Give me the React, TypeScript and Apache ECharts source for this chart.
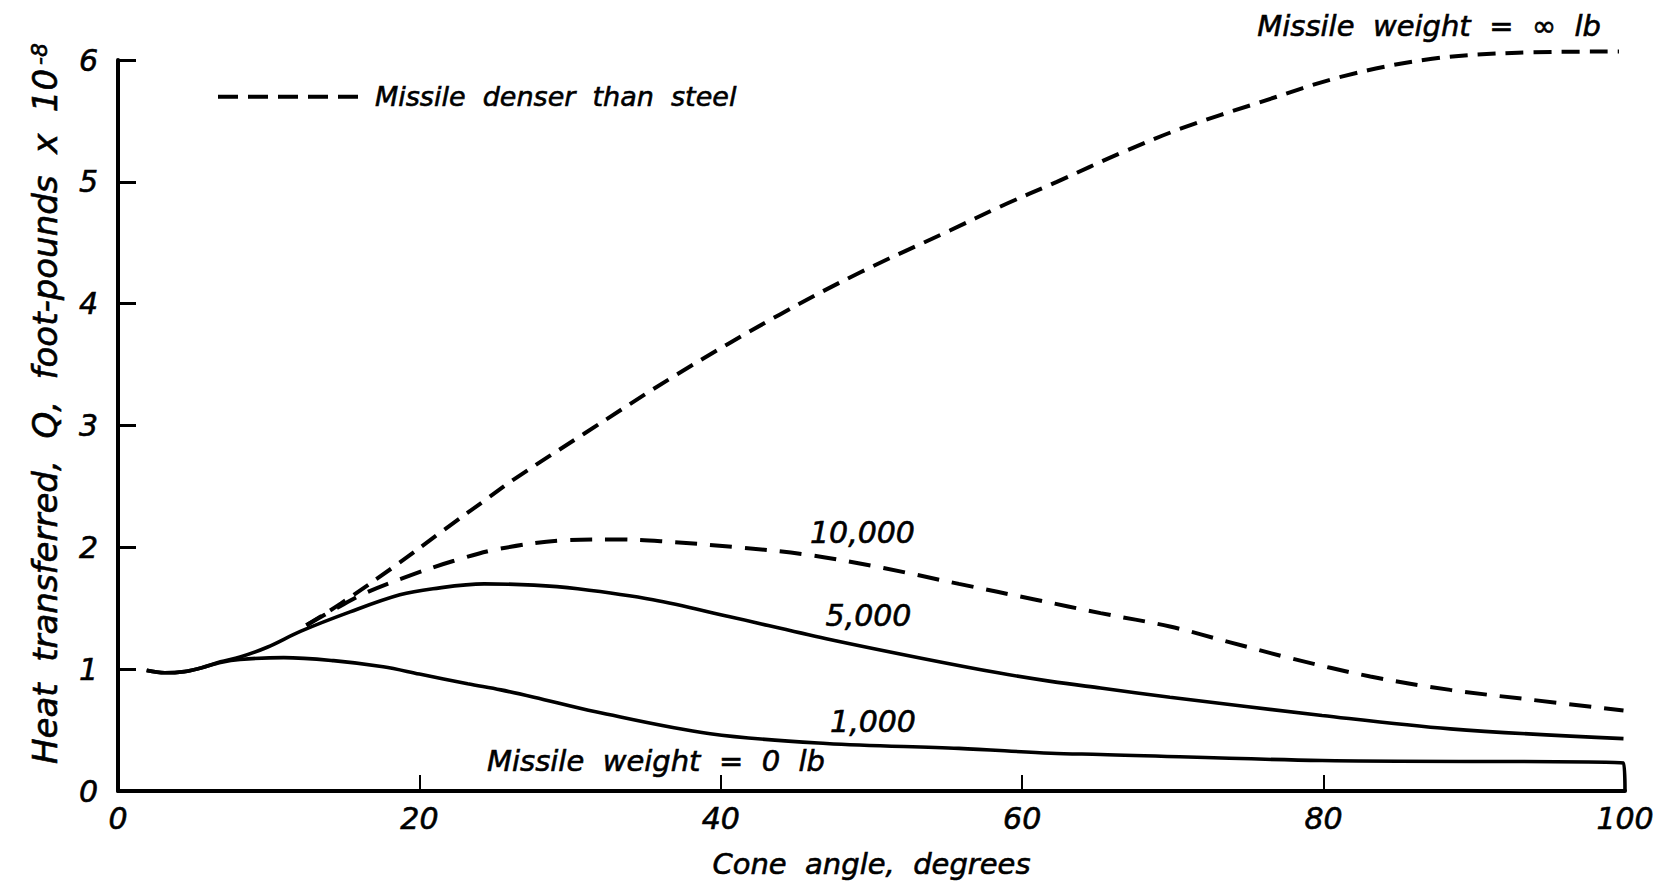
import React, { useEffect, useRef } from "react";
import * as echarts from "echarts";

// Axis ticks
const X_TICKS = [0, 20, 40, 60, 80, 100];
const Y_TICKS = [0, 1, 2, 3, 4, 5, 6];

// Cone angle (deg) vs heat transferred Q (ft-lb x 10^-8)
const WEIGHT_INF: [number, number][] = [
  [12.5, 1.36], [14.8, 1.54], [18.3, 1.84], [21.6, 2.14], [24.5, 2.4], [26.3, 2.56],
  [30.9, 2.93], [37.1, 3.42], [43.9, 3.91], [49.3, 4.26], [55.2, 4.6], [58.6, 4.8],
  [62.3, 5.0], [66.6, 5.24], [70.6, 5.44], [75.7, 5.65], [81.4, 5.87], [87.2, 6.01],
  [92.9, 6.06], [99.6, 6.07],
];
const WEIGHT_10000: [number, number][] = [
  [12.5, 1.36], [14.5, 1.5], [16.5, 1.63], [19.4, 1.77], [22.3, 1.89], [25.4, 1.99],
  [29.9, 2.06], [33.0, 2.065], [36.0, 2.05], [41.1, 2.0], [45.7, 1.94], [50.8, 1.83],
  [55.8, 1.7], [60.9, 1.57], [65.2, 1.46], [69.8, 1.35], [73.8, 1.22], [77.8, 1.09],
  [83.1, 0.94], [88.4, 0.83], [93.7, 0.75], [99.9, 0.66],
];
const WEIGHT_5000: [number, number][] = [
  [1.9, 0.99], [3.1, 0.97], [4.4, 0.98], [5.5, 1.01], [6.8, 1.06], [8.1, 1.1],
  [9.9, 1.18], [12.1, 1.31], [15.4, 1.47], [18.7, 1.61], [20.9, 1.66], [24.3, 1.7],
  [27.6, 1.69], [30.5, 1.66], [35.5, 1.57], [40.6, 1.43], [47.0, 1.25], [53.3, 1.09],
  [58.4, 0.97], [61.9, 0.9], [65.2, 0.845], [69.8, 0.77], [79.9, 0.62], [88.4, 0.51],
  [99.9, 0.43],
];
const WEIGHT_1000: [number, number][] = [
  [1.9, 0.99], [3.1, 0.97], [4.4, 0.98], [5.5, 1.01], [6.8, 1.055], [8.1, 1.08],
  [11.0, 1.095], [14.3, 1.07], [17.6, 1.02], [20.0, 0.96], [23.2, 0.88], [25.4, 0.83],
  [27.6, 0.77], [31.7, 0.65], [39.3, 0.47], [47.0, 0.39], [55.8, 0.35], [61.9, 0.31],
  [65.2, 0.3], [79.9, 0.25], [99.9, 0.23], [100, 0],
];
const WEIGHT_0: [number, number][] = [
  [0, 0], [100, 0],
];

// Curve annotations, anchored in data coordinates
const LABEL_TEXTS = ["10,000", "5,000", "1,000", "Missile  weight  =  0  lb", "Missile  weight  =  ∞  lb"];
const LABEL_ANCHORS: [number, number][] = [[49.4, 2.12], [49.8, 1.44], [50.1, 0.57], [35.7, 0.25], [87.0, 6.28]];
const LABEL_SIZES = [30, 30, 30, 29, 29];

const LEGEND_NAME = "Missile denser than steel";
const FONT = "DejaVu Sans";
const STROKE = { textBorderColor: "#000", textBorderWidth: 0.6 };

export default function App() {
  const ref = useRef<HTMLDivElement>(null);

  useEffect(() => {
    if (!ref.current) return;
    const chart = echarts.init(ref.current, null, { renderer: "svg" });
    const txt = { fontFamily: FONT, fontStyle: "italic" as const, color: "#000", ...STROKE };

    const solid = (name: string, data: [number, number][]) => ({
      name,
      type: "line",
      data,
      smooth: 0.35,
      symbol: "none",
      clip: false,
      itemStyle: { color: "#000" },
      lineStyle: { color: "#000", width: 3.6 },
    });
    const dashed = (data: [number, number][], dash: number[]) => ({
      name: LEGEND_NAME,
      type: "line",
      data,
      smooth: 0.35,
      symbol: "none",
      clip: false,
      itemStyle: { color: "#000" },
      lineStyle: { color: "#000", width: 4, type: dash },
    });

    chart.setOption({
      animation: false,
      backgroundColor: "#fff",
      grid: { left: 118, right: 51, top: 60, bottom: 96, containLabel: false },
      legend: {
        data: [LEGEND_NAME],
        left: 211,
        top: 78,
        itemWidth: 146,
        itemHeight: 14,
        itemGap: 0,
        itemStyle: { opacity: 0 },
        lineStyle: { type: [20, 10], width: 4, color: "#000" },
        textStyle: { ...txt, fontSize: 27, padding: [0, 0, 0, 6] },
        formatter: () => "Missile  denser  than  steel",
        selectedMode: false,
      },
      xAxis: {
        type: "value",
        min: X_TICKS[0],
        max: X_TICKS[X_TICKS.length - 1],
        interval: X_TICKS[1] - X_TICKS[0],
        splitLine: { show: false },
        axisLine: { lineStyle: { color: "#000", width: 4 } },
        axisTick: { inside: true, length: 16, lineStyle: { color: "#000", width: 2 } },
        axisLabel: { ...txt, fontSize: 30, margin: 12 },
        name: "Cone  angle,  degrees",
        nameLocation: "middle",
        nameGap: 58,
        nameTextStyle: { ...txt, fontSize: 29 },
      },
      yAxis: {
        type: "value",
        min: Y_TICKS[0],
        max: Y_TICKS[Y_TICKS.length - 1],
        interval: Y_TICKS[1] - Y_TICKS[0],
        splitLine: { show: false },
        axisLine: { lineStyle: { color: "#000", width: 4 } },
        axisTick: { inside: true, length: 18, lineStyle: { color: "#000", width: 3 } },
        axisLabel: { ...txt, fontSize: 30, margin: 20 },
        name: "Heat  transferred,  Q,  foot-pounds  x  10{sup|-8}",
        nameLocation: "middle",
        nameRotate: 90,
        nameGap: 56,
        nameTextStyle: {
          ...txt,
          fontSize: 34,
          padding: [0, 0, 0, 44],
          rich: {
            sup: { fontFamily: FONT, fontStyle: "italic", fontSize: 22, color: "#000", ...STROKE, verticalAlign: "top", padding: [0, 0, 12, 4] },
          },
        },
      },
      series: [
        dashed(WEIGHT_INF, [18, 10]),
        dashed(WEIGHT_10000, [22, 13]),
        solid("5,000 lb", WEIGHT_5000),
        solid("1,000 lb", WEIGHT_1000),
        { ...solid("0 lb", WEIGHT_0), smooth: false, lineStyle: { color: "#000", width: 4 } },
      ],
    });

    const graphics = LABEL_TEXTS.map((t, i) => {
      const p = chart.convertToPixel({ xAxisIndex: 0, yAxisIndex: 0 }, LABEL_ANCHORS[i]) as number[];
      return {
        type: "text",
        x: p[0],
        y: p[1],
        style: {
          text: t,
          fontFamily: FONT,
          fontStyle: "italic",
          fontSize: LABEL_SIZES[i],
          fill: "#000",
          stroke: "#000",
          lineWidth: 0.6,
          align: "center",
          verticalAlign: "middle",
        },
      };
    });
    chart.setOption({ graphic: graphics });

    return () => chart.dispose();
  }, []);

  return (
    <div
      ref={ref}
      style={{ position: "absolute", left: 0, top: 0, width: 1676, height: 887, background: "#fff" }}
    />
  );
}
